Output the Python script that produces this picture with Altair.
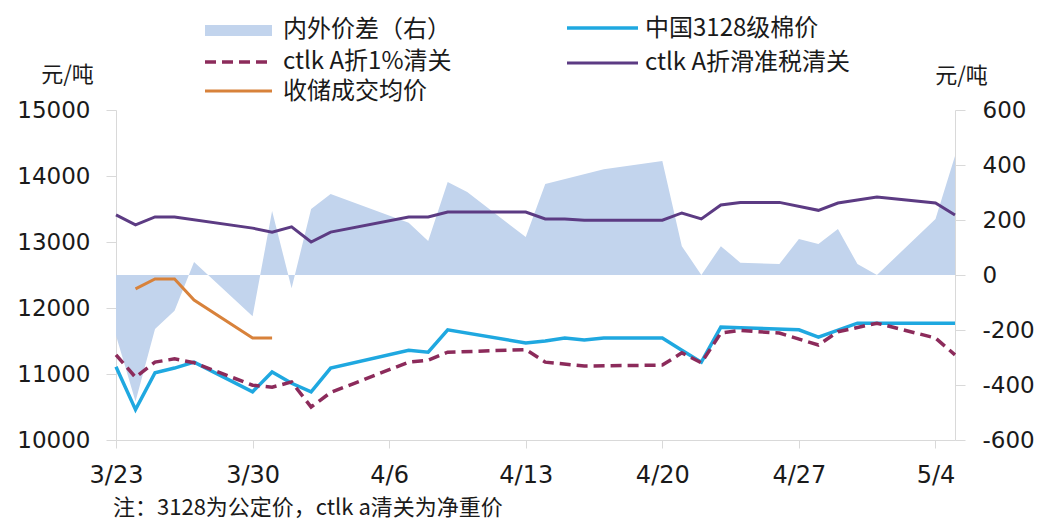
import altair as alt
import pandas as pd

YEAR = "2009"

# 内外价差（右） - right axis
spread_dates = ["03-23", "03-24", "03-25", "03-26", "03-27", "03-30", "03-31", "04-01", "04-02", "04-03",
                "04-07", "04-08", "04-09", "04-10", "04-13", "04-14", "04-17", "04-20", "04-21", "04-22",
                "04-23", "04-24", "04-26", "04-27", "04-28", "04-29", "04-30", "05-01", "05-04", "05-05"]
spread_values = [-220, -460, -196, -130, 47, -150, 233, -48, 240, 295,
                 190, 124, 338, 302, 138, 331, 385, 415, 105, 0,
                 105, 45, 40, 131, 113, 167, 40, 0, 204, 433]

# 中国3128级棉价
cn_dates = ["03-23", "03-24", "03-25", "03-26", "03-27", "03-30", "03-31", "04-01", "04-02", "04-03",
            "04-07", "04-08", "04-09", "04-13", "04-14", "04-15", "04-16", "04-17", "04-20", "04-21",
            "04-22", "04-23", "04-24", "04-27", "04-28", "04-30", "05-05"]
cn_values = [11110, 10460, 11020, 11090, 11180, 10730, 11030, 10860, 10730, 11090,
             11360, 11330, 11670, 11470, 11500, 11545, 11515, 11545, 11545, 11360,
             11180, 11710, 11700, 11670, 11560, 11770, 11770]

# ctlk A折1%清关
one_dates = ["03-23", "03-24", "03-25", "03-26", "03-27", "03-30", "03-31", "04-01", "04-02", "04-03",
             "04-07", "04-08", "04-09", "04-13", "04-14", "04-16", "04-20", "04-21", "04-22", "04-23",
             "04-24", "04-26", "04-28", "04-29", "05-01", "05-04", "05-05"]
one_values = [11290, 10950, 11180, 11230, 11170, 10830, 10800, 10880, 10500, 10720,
              11180, 11210, 11330, 11370, 11180, 11120, 11135, 11320, 11170, 11620,
              11660, 11620, 11440, 11640, 11770, 11545, 11290]

# ctlk A折滑准税清关
sl_dates = ["03-23", "03-24", "03-25", "03-26", "03-30", "03-31", "04-01", "04-02", "04-03", "04-07",
            "04-08", "04-09", "04-13", "04-14", "04-15", "04-16", "04-20", "04-21", "04-22", "04-23",
            "04-24", "04-26", "04-28", "04-29", "05-01", "05-04", "05-05"]
sl_values = [13410, 13260, 13380, 13380, 13210, 13150, 13230, 13000, 13150, 13380,
             13380, 13455, 13455, 13350, 13350, 13330, 13330, 13440, 13350, 13560,
             13600, 13600, 13480, 13590, 13680, 13590, 13410]

# 收储成交均价
res_dates = ["03-24", "03-25", "03-26", "03-27", "03-30", "03-31"]
res_values = [12290, 12440, 12440, 12120, 11545, 11545]

x_tick_dates = ["03-23", "03-30", "04-06", "04-13", "04-20", "04-27", "05-04"]
x_domain_dates = ["03-23", "05-05"]
left_ticks = [10000, 11000, 12000, 13000, 14000, 15000]
right_ticks = [-600, -400, -200, 0, 200, 400, 600]

legend_labels = ["内外价差（右）", "ctlk A折1%清关", "收储成交均价", "中国3128级棉价", "ctlk A折滑准税清关"]
note_text = "注：3128为公定价，ctlk a清关为净重价"
unit_text = "元/吨"

AREA_C = "#c2d4ed"
CN_C = "#1fa8e0"
ONE_C = "#8c2b5b"
SL_C = "#5c3b83"
RES_C = "#d8823b"
AXIS_C = "#d9d9d9"
TEXT_C = "#1a1a1a"
CJK = "Noto Sans CJK SC"
NUM = "DejaVu Sans"


def ts(md):
    return int(pd.Timestamp(f"{YEAR}-{md}", tz="UTC").value // 10**6)


def frame(dates, values):
    return pd.DataFrame({"date": [f"{YEAR}-{d}" for d in dates], "value": values})


x_enc = alt.X(
    "date:T",
    scale=alt.Scale(type="utc", domain=[ts(d) for d in x_domain_dates]),
    axis=alt.Axis(values=[ts(d) for d in x_tick_dates], labelExpr="utcFormat(datum.value, '%-m/%-d')",
                  title=None, tickSize=8, labelPadding=15, labelFontSize=24, labelFont=NUM,
                  labelColor=TEXT_C, domainColor=AXIS_C, tickColor=AXIS_C, grid=False, labelFlush=False),
)

left_y = alt.Y(
    "value:Q",
    scale=alt.Scale(domain=[10000, 15000], nice=False, zero=False),
    axis=alt.Axis(orient="left", values=left_ticks, labelExpr="'' + datum.value", tickSize=10,
                  labelPadding=16, labelFontSize=23, labelFont=NUM, labelColor=TEXT_C,
                  domainColor=AXIS_C, tickColor=AXIS_C, grid=False, title=unit_text, titleAngle=0,
                  titleX=-49, titleY=-36, titleAlign="center", titleBaseline="middle", titleFont=CJK,
                  titleFontSize=22, titleFontWeight="normal", titleColor=TEXT_C),
)

right_y = alt.Y(
    "value:Q",
    scale=alt.Scale(domain=[-600, 600], nice=False, zero=False),
    axis=alt.Axis(orient="right", values=right_ticks, labelExpr="'' + datum.value", tickSize=10,
                  labelPadding=17, labelFontSize=23, labelFont=NUM, labelColor=TEXT_C,
                  domainColor=AXIS_C, tickColor=AXIS_C, grid=False, title=unit_text, titleAngle=0,
                  titleX=6, titleY=-35, titleAlign="center", titleBaseline="middle", titleFont=CJK,
                  titleFontSize=22, titleFontWeight="normal", titleColor=TEXT_C),
)

area = alt.Chart(frame(spread_dates, spread_values)).mark_area(
    color=AREA_C, opacity=1, interpolate="linear"
).encode(x=x_enc, y=right_y, y2=alt.datum(0))

cn = alt.Chart(frame(cn_dates, cn_values)).mark_line(color=CN_C, strokeWidth=3.5).encode(x=x_enc, y=left_y)
one = alt.Chart(frame(one_dates, one_values)).mark_line(
    color=ONE_C, strokeWidth=3.5, strokeDash=[11, 6]).encode(x=x_enc, y=left_y)
sl = alt.Chart(frame(sl_dates, sl_values)).mark_line(color=SL_C, strokeWidth=3).encode(x=x_enc, y=left_y)
res = alt.Chart(frame(res_dates, res_values)).mark_line(color=RES_C, strokeWidth=3).encode(x=x_enc, y=left_y)

lines = alt.layer(cn, one, sl, res)

dummy = pd.DataFrame({"k": [0]})

# legend (positions relative to plot origin)
leg = []
leg.append(alt.Chart(dummy).mark_rect(color=AREA_C).encode(
    x=alt.value(89), x2=alt.value(156), y=alt.value(-85), y2=alt.value(-74)))
leg.append(alt.Chart(dummy).mark_rule(color=ONE_C, strokeWidth=3.5, strokeDash=[11, 6]).encode(
    x=alt.value(89), x2=alt.value(156), y=alt.value(-48)))
leg.append(alt.Chart(dummy).mark_rule(color=RES_C, strokeWidth=3).encode(
    x=alt.value(89), x2=alt.value(156), y=alt.value(-19)))
leg.append(alt.Chart(dummy).mark_rule(color=CN_C, strokeWidth=3.5).encode(
    x=alt.value(451), x2=alt.value(522), y=alt.value(-82)))
leg.append(alt.Chart(dummy).mark_rule(color=SL_C, strokeWidth=3).encode(
    x=alt.value(451), x2=alt.value(522), y=alt.value(-47)))

text_pos = [(167, -80), (167, -48), (167, -18), (529, -81), (529, -47)]
for label, (tx, ty) in zip(legend_labels, text_pos):
    leg.append(alt.Chart(dummy).mark_text(
        align="left", baseline="middle", font=CJK, fontSize=24, color=TEXT_C
    ).encode(x=alt.value(tx), y=alt.value(ty), text=alt.value(label)))

note = alt.Chart(dummy).mark_text(
    align="left", baseline="middle", font=CJK, fontSize=22, color=TEXT_C
).encode(x=alt.value(-3), y=alt.value(398), text=alt.value(note_text))

chart = alt.layer(area, lines, *leg, note).resolve_scale(y="independent").properties(
    width=839, height=330,
    padding={"left": 108, "top": 102, "right": 79, "bottom": 80},
    autosize=alt.AutoSizeParams(type="none"),
    background="white",
).configure_view(stroke=None)

chart.save("out.html", embed_options={"renderer": "svg", "actions": False})
